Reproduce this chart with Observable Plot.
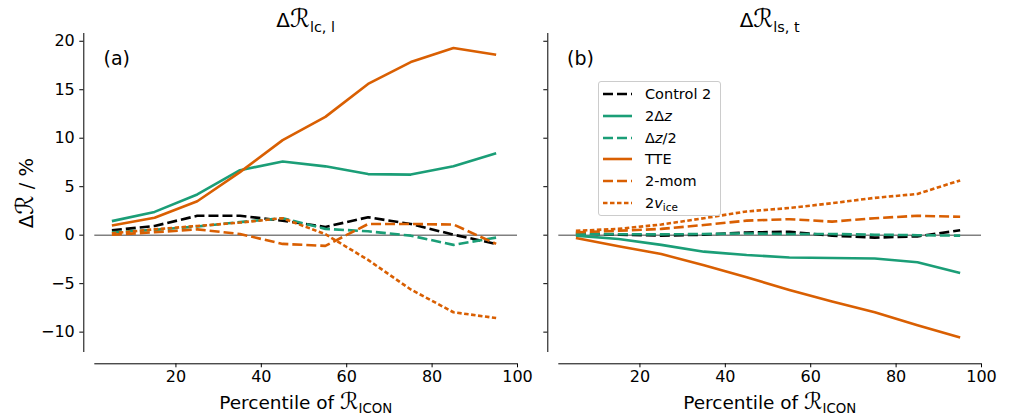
<!DOCTYPE html>
<html><head><meta charset="utf-8">
<script src="https://cdn.jsdelivr.net/npm/d3@7"></script>
<script src="https://cdn.jsdelivr.net/npm/@observablehq/plot@0.6"></script>
<style>
body{margin:0;background:#fff;}
#fig{position:relative;width:1012px;height:416px;font-family:"DejaVu Sans",sans-serif;color:#000;overflow:hidden;background:#fff}
.abs{position:absolute;white-space:nowrap;line-height:1}
.panel{position:absolute;top:0}
.sub{font-size:0.72em;position:relative;top:0.32em}
.cal{font-size:1.25em;line-height:0.8}
.legend{position:absolute;left:598px;top:81px;width:123px;height:135px;border:1px solid #cccccc;border-radius:3px;background:rgba(255,255,255,0.8);box-sizing:border-box;font-size:14.5px}
.row{position:absolute;left:0;height:21.7px;display:flex;align-items:center}
.row svg{margin-left:4px;margin-right:13px}
</style></head><body><div id="fig"></div>
<script>
// ---------- data ----------
const percentiles = [5, 15, 25, 35, 45, 55, 65, 75, 85, 95];
const xTicks = [20, 40, 60, 80, 100];
const yTicks = [-10, -5, 0, 5, 10, 15, 20];
const seriesNames = ["Control 2", "2Δz", "Δz/2", "TTE", "2-mom", "2v_ice"];

// panel (a): ΔR_lc,l (%)
const lcControl2 = [0.5, 0.95, 2.0, 2.0, 1.5, 0.85, 1.85, 1.15, 0.05, -0.9];
const lc2dz      = [1.45, 2.4, 4.2, 6.7, 7.6, 7.1, 6.3, 6.25, 7.1, 8.45];
const lcDzHalf   = [0.3, 0.55, 0.9, 1.35, 1.75, 0.65, 0.4, -0.05, -1.0, -0.25];
const lcTTE      = [1.0, 1.8, 3.5, 6.5, 9.8, 12.2, 15.6, 17.85, 19.3, 18.6];
const lc2mom     = [0.05, 0.3, 0.6, 0.12, -0.9, -1.1, 1.15, 1.15, 1.1, -0.9];
const lc2vice    = [0.2, 0.6, 0.95, 1.3, 1.75, 0.1, -2.55, -5.6, -7.95, -8.55];

// panel (b): ΔR_ls,t (%)
const lsControl2 = [0.2, 0.05, -0.05, 0.05, 0.28, 0.35, -0.05, -0.25, -0.12, 0.5];
const ls2dz      = [-0.05, -0.4, -1.0, -1.7, -2.05, -2.3, -2.35, -2.4, -2.8, -3.9];
const lsDzHalf   = [0.15, 0.1, 0.08, 0.12, 0.18, 0.12, 0.12, 0.05, 0.0, -0.05];
const lsTTE      = [-0.3, -1.15, -1.95, -3.1, -4.35, -5.65, -6.85, -7.95, -9.3, -10.55];
const ls2mom     = [0.3, 0.45, 0.65, 1.05, 1.5, 1.65, 1.4, 1.75, 2.0, 1.9];
const ls2vice    = [0.45, 0.65, 1.1, 1.75, 2.45, 2.8, 3.3, 3.85, 4.25, 5.65];

// ---------- styles / layout ----------
const seriesStyle = [
  {color: "#000000", dash: "10,4"},
  {color: "#1b9e77", dash: null},
  {color: "#1b9e77", dash: "10,4"},
  {color: "#d95f02", dash: null},
  {color: "#d95f02", dash: "10,4"},
  {color: "#d95f02", dash: "4.5,2.5"}
];
const xLim = [1, 100], yLim = [-12.1, 20.8];
const L = {spineX: 83.3, axLeft: 94.3, axRight: 517, axTop: 33, axBottom: 352, spineY: 363.3, H: 416};
const pxPerX = (L.axRight - L.axLeft) / (xLim[1] - xLim[0]);
const pxPerY = (L.axBottom - L.axTop) / (yLim[1] - yLim[0]);
const xDomain = [xLim[0] - (L.axLeft - L.spineX) / pxPerX, xLim[1]];
const yDomain = [yLim[0] - (L.spineY - L.axBottom) / pxPerY, yLim[1]];
const fmt = d => d < 0 ? "\u2212" + (-d) : String(d);

function panel(values, showLabels, width) {
  const marks = [
    Plot.ruleY([0], {x1: xLim[0], x2: xLim[1], stroke: "#808080", strokeWidth: 1.5}),
    Plot.ruleX([xDomain[0]], {y1: yLim[0], y2: yLim[1], stroke: "#000", strokeWidth: 1}),
    Plot.ruleY([yDomain[0]], {x1: xLim[0], x2: xLim[1], stroke: "#000", strokeWidth: 1}),
    Plot.axisX({anchor: "bottom", ticks: xTicks, tickSize: 4, tickPadding: 3, tickFormat: fmt, fontSize: 16, label: null}),
    Plot.axisY({anchor: "left", ticks: yTicks, tickSize: 4, tickPadding: 5, tickFormat: showLabels ? fmt : () => "", fontSize: 16, label: null})
  ];
  values.forEach((vals, i) => {
    const st = seriesStyle[i];
    marks.push(Plot.line(percentiles.map((p, j) => ({p, v: vals[j], s: seriesNames[i]})), {
      x: "p", y: "v", stroke: st.color, strokeWidth: 2.6,
      strokeDasharray: st.dash ?? undefined, strokeLinejoin: "round", strokeLinecap: "butt"
    }));
  });
  return Plot.plot({
    width, height: L.H,
    marginLeft: L.spineX, marginRight: width - L.axRight,
    marginTop: L.axTop, marginBottom: L.H - L.spineY,
    x: {domain: xDomain},
    y: {domain: yDomain},
    style: {fontFamily: "DejaVu Sans, sans-serif", fontSize: "16px", color: "#000", background: "transparent", overflow: "visible"},
    marks
  });
}

const fig = document.getElementById("fig");
const pa = panel([lcControl2, lc2dz, lcDzHalf, lcTTE, lc2mom, lc2vice], true, 520);
pa.classList.add("panel"); pa.style.left = "0px";
const pb = panel([lsControl2, ls2dz, lsDzHalf, lsTTE, ls2mom, ls2vice], false, 548);
pb.classList.add("panel"); pb.style.left = "464px";
fig.appendChild(pa); fig.appendChild(pb);

function addText(html, left, top, size, extra = "") {
  const d = document.createElement("div");
  d.className = "abs";
  d.innerHTML = html;
  d.style.cssText += `left:${left}px;top:${top}px;font-size:${size}px;${extra}`;
  fig.appendChild(d);
  return d;
}
const R = `<span class="cal">\u211B</span>`;
const cx = (L.axLeft + L.axRight) / 2;
addText(`Δ${R}<span class="sub">lc, l</span>`, cx, 9, 20, "transform:translateX(-50%)");
addText(`Δ${R}<span class="sub">ls, t</span>`, cx + 464, 9, 20, "transform:translateX(-50%)");
addText(`Percentile of ${R}<span class="sub">ICON</span>`, cx, 391.5, 18.5, "transform:translateX(-50%)");
addText(`Percentile of ${R}<span class="sub">ICON</span>`, cx + 464, 391.5, 18.5, "transform:translateX(-50%)");
addText(`Δ${R} / %`, 26, (L.axTop + L.axBottom) / 2, 19.5, "transform:translate(-50%,-50%) rotate(-90deg)");
addText("(a)", 103.5, 48.5, 19);
addText("(b)", 567, 48.5, 19);

// legend
const leg = document.createElement("div");
leg.className = "legend";
const labelsHtml = ["Control 2", "2Δ<i>z</i>", "Δ<i>z</i>/2", "TTE", "2-mom", `2<i>v</i><span class="sub">ice</span>`];
labelsHtml.forEach((lab, i) => {
  const st = seriesStyle[i];
  const row = document.createElement("div");
  row.className = "row";
  row.style.top = (1.5 + i * 21.7) + "px";
  row.innerHTML = `<svg width="29" height="10"><line x1="0" x2="29" y1="5" y2="5" stroke="${st.color}" stroke-width="2.6" ${st.dash ? `stroke-dasharray="${st.dash}"` : ""}/></svg><span>${lab}</span>`;
  leg.appendChild(row);
});
fig.appendChild(leg);
</script>
</body></html>
